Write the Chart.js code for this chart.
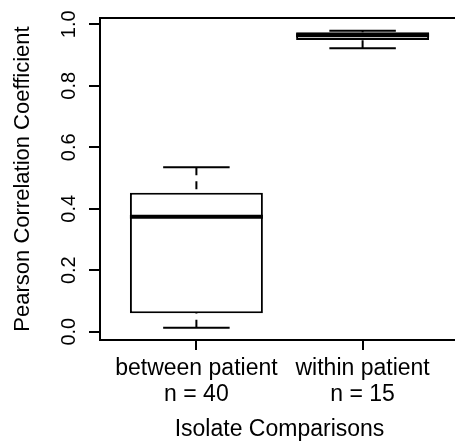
<!DOCTYPE html>
<html>
<head>
<meta charset="utf-8">
<script src="https://cdn.jsdelivr.net/npm/chart.js@4/dist/chart.umd.min.js"></script>
<style>
  html, body { margin: 0; padding: 0; background: #fff; overflow: hidden; }
  #wrap { width: 470px; height: 445px; }
</style>
</head>
<body>
<div id="wrap"><canvas id="boxChart" width="470" height="445"></canvas></div>
<script>
// Données
const categories = ['between patient', 'within patient'];
const counts = [40, 15];
const whiskerLow = [0.013, 0.922];
const q1 = [0.060, 0.949];
const median = [0.374, 0.964];
const q3 = [0.452, 0.974];
const whiskerHigh = [0.535, 0.979];
const yTicks = [0, 0.2, 0.4, 0.6, 0.8, 1.0];

const FONT = '"Liberation Sans", Arial, sans-serif';

// Cadre autour de la zone de tracé (style R)
const framePlugin = {
    id: 'frame',
    afterDraw(chart) {
        const { ctx, chartArea: a } = chart;
        ctx.save();
        ctx.strokeStyle = '#000';
        ctx.lineWidth = 2;
        ctx.strokeRect(a.left, a.top, a.right - a.left, a.bottom - a.top);
        ctx.restore();
    }
};

// Moustaches, chapeaux et médianes
const whiskerPlugin = {
    id: 'whiskers',
    afterDatasetsDraw(chart) {
        const { ctx } = chart;
        const xs = chart.scales.x;
        const ys = chart.scales.y;
        const bars = chart.getDatasetMeta(0).data;
        ctx.save();
        ctx.strokeStyle = '#000';
        categories.forEach((c, i) => {
            const xc = xs.getPixelForValue(i + 1);
            const w = bars[i].width;
            // moustaches en tirets, tracées depuis l'extrémité
            ctx.lineWidth = 2;
            ctx.setLineDash([8, 6]);
            ctx.beginPath();
            ctx.moveTo(xc, ys.getPixelForValue(whiskerHigh[i]));
            ctx.lineTo(xc, ys.getPixelForValue(q3[i]));
            ctx.moveTo(xc, ys.getPixelForValue(whiskerLow[i]));
            ctx.lineTo(xc, ys.getPixelForValue(q1[i]));
            ctx.stroke();
            // chapeaux
            ctx.setLineDash([]);
            ctx.beginPath();
            ctx.moveTo(xc - w / 4, ys.getPixelForValue(whiskerHigh[i]));
            ctx.lineTo(xc + w / 4, ys.getPixelForValue(whiskerHigh[i]));
            ctx.moveTo(xc - w / 4, ys.getPixelForValue(whiskerLow[i]));
            ctx.lineTo(xc + w / 4, ys.getPixelForValue(whiskerLow[i]));
            ctx.stroke();
            // médiane
            ctx.lineWidth = 4;
            ctx.beginPath();
            ctx.moveTo(xc - w / 2, ys.getPixelForValue(median[i]));
            ctx.lineTo(xc + w / 2, ys.getPixelForValue(median[i]));
            ctx.stroke();
        });
        ctx.restore();
    }
};

const canvas = document.getElementById('boxChart');
new Chart(canvas.getContext('2d'), {
    type: 'bar',
    data: {
        datasets: [{
            data: categories.map((c, i) => ({ x: i + 1, y: [q1[i], q3[i]] })),
            backgroundColor: '#fff',
            borderColor: '#000',
            borderWidth: 2,
            borderSkipped: false,
            barPercentage: 1,
            categoryPercentage: 0.8
        }]
    },
    options: {
        responsive: false,
        animation: false,
        layout: { padding: { top: 18, right: 11, left: 0, bottom: 0 } },
        plugins: {
            legend: { display: false },
            tooltip: { enabled: false }
        },
        scales: {
            x: {
                type: 'linear',
                min: 0.42,
                max: 2.58,
                offset: false,
                grid: { display: true, offset: false, drawOnChartArea: false, drawTicks: true, tickLength: 10, color: '#000', lineWidth: 2 },
                border: { display: false },
                afterBuildTicks: scale => { scale.ticks = categories.map((c, i) => ({ value: i + 1 })); },
                afterFit: scale => { scale.height = 105; scale.paddingLeft = 0; scale.paddingRight = 0; },
                ticks: {
                    autoSkip: false,
                    minRotation: 0,
                    maxRotation: 0,
                    padding: 6,
                    color: '#000',
                    font: { family: FONT, size: 23, lineHeight: 1.13 },
                    callback: value => [categories[value - 1], 'n = ' + counts[value - 1]]
                },
                title: {
                    display: true,
                    text: 'Isolate Comparisons',
                    color: '#000',
                    padding: { top: 0, bottom: 2 },
                    font: { family: FONT, size: 23 }
                }
            },
            y: {
                type: 'linear',
                min: -0.027,
                max: 1.0205,
                grid: { display: true, drawOnChartArea: false, drawTicks: true, tickLength: 11, color: '#000', lineWidth: 2 },
                border: { display: false },
                afterBuildTicks: scale => { scale.ticks = yTicks.map(v => ({ value: v })); },
                afterFit: scale => { scale.width = 100; scale.paddingTop = 0; scale.paddingBottom = 0; },
                ticks: {
                    minRotation: 90,
                    maxRotation: 90,
                    crossAlign: 'center',
                    padding: 6,
                    color: '#000',
                    font: { family: FONT, size: 20 },
                    callback: value => value.toFixed(1)
                },
                title: {
                    display: true,
                    text: 'Pearson Correlation Coefficient',
                    color: '#000',
                    padding: { top: 10, bottom: 0 },
                    font: { family: FONT, size: 22 }
                }
            }
        }
    },
    plugins: [whiskerPlugin, framePlugin]
});
</script>
</body>
</html>
